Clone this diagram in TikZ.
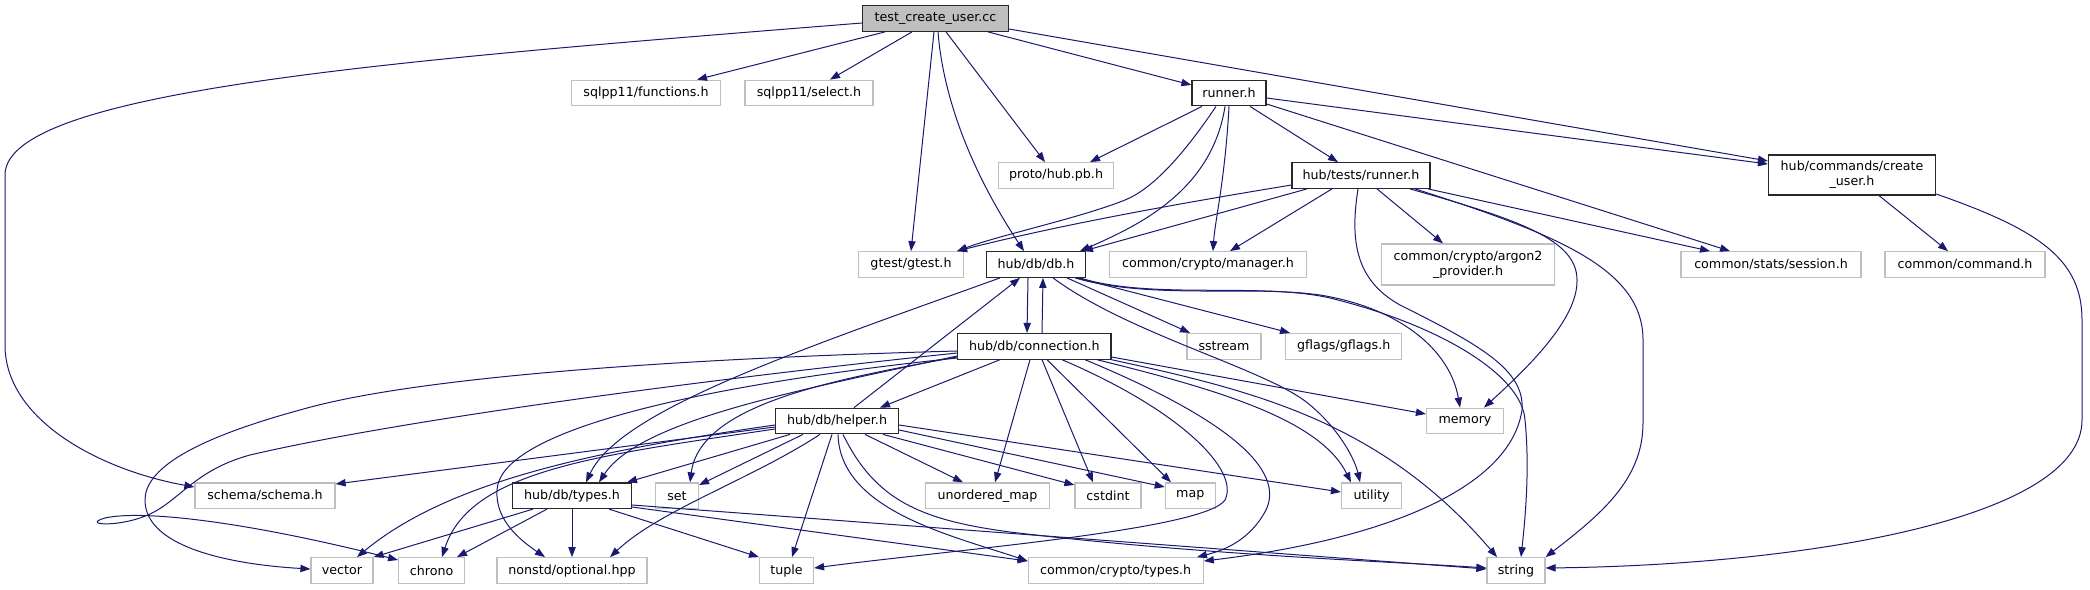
\documentclass[tikz,border=0pt]{standalone}
\usepackage{fontspec}
\setmainfont{DejaVu Sans}
\usetikzlibrary{arrows.meta}
\definecolor{edgec}{RGB}{25,25,112}
\definecolor{grayb}{RGB}{191,191,191}
\definecolor{darkb}{RGB}{40,40,40}
\tikzset{
  nd/.style={draw=grayb, line width=0.9pt, fill=white, minimum height=19.2pt, inner sep=0pt, align=center, font=\fontsize{9.5}{11.5}\selectfont},
  bk/.style={nd, draw=darkb},
  rt/.style={nd, draw=darkb, fill=grayb},
  e/.style={draw=edgec, line width=0.75pt, -{Triangle[length=7.5pt,width=5.5pt]}}
}
\begin{document}
\begin{tikzpicture}[x=0.75pt,y=-0.75pt]
\useasboundingbox (0,0) rectangle (2090,589);
% nodes
\node[rt, minimum width=109.5pt] (root) at (935.5,18.5) {test\_create\_user.cc};
\node[nd, minimum width=111.75pt] (fun) at (646,93) {sqlpp11/functions.h};
\node[nd, minimum width=96pt] (sel) at (809,93) {sqlpp11/select.h};
\node[bk, minimum width=55.5pt] (runner) at (1229,93) {runner.h};
\node[nd, minimum width=86.25pt] (proto) at (1056,175.5) {proto/hub.pb.h};
\node[bk, minimum width=103.5pt] (tests) at (1361,175.5) {hub/tests/runner.h};
\node[bk, minimum width=125.25pt, minimum height=30pt] (cu) at (1852,175) {hub/commands/create\\\_user.h};
\node[nd, minimum width=78.4pt] (gtest) at (911,264.5) {gtest/gtest.h};
\node[bk, minimum width=74.25pt] (db) at (1036,264.5) {hub/db/db.h};
\node[nd, minimum width=147.75pt] (mgr) at (1208,264.5) {common/crypto/manager.h};
\node[nd, minimum width=129.75pt, minimum height=30.75pt] (argon) at (1468,264.5) {common/crypto/argon2\\\_provider.h};
\node[nd, minimum width=135pt] (sess) at (1771,264.5) {common/stats/session.h};
\node[nd, minimum width=120pt] (cmd) at (1965,264.5) {common/command.h};
\node[bk, minimum width=115pt] (conn) at (1034.3,346.3) {hub/db/connection.h};
\node[nd, minimum width=55.5pt] (sstream) at (1224,346.3) {sstream};
\node[nd, minimum width=87pt] (gflags) at (1343.7,346.3) {gflags/gflags.h};
\node[bk, minimum width=92.25pt] (helper) at (837,421) {hub/db/helper.h};
\node[nd, minimum width=57.75pt] (memory) at (1465,421) {memory};
\node[nd, minimum width=105pt] (schema) at (265,495.7) {schema/schema.h};
\node[bk, minimum width=89.25pt] (types) at (572,495.7) {hub/db/types.h};
\node[nd, minimum width=32.25pt] (set) at (677,495.7) {set};
\node[nd, minimum width=93pt] (umap) at (987.5,495.7) {unordered\_map};
\node[nd, minimum width=49.5pt] (cstdint) at (1108,495.7) {cstdint};
\node[nd, minimum width=37.5pt] (map) at (1190.3,495.7) {map};
\node[nd, minimum width=45pt] (utility) at (1371.5,495.7) {utility};
\node[nd, minimum width=46.5pt] (vector) at (342,570.5) {vector};
\node[nd, minimum width=49.5pt] (chrono) at (431.6,570.5) {chrono};
\node[nd, minimum width=112.5pt] (opt) at (572,570.5) {nonstd/optional.hpp};
\node[nd, minimum width=40.5pt] (tuple) at (786.5,570.5) {tuple};
\node[nd, minimum width=131.25pt] (ctypes) at (1115.7,570.5) {common/crypto/types.h};
\node[nd, minimum width=43.5pt] (string) at (1516,570.5) {string};
% edges from root
\draw[e] (root.west |- 0,23) .. controls (400,60) and (5,90) .. (5,175) -- (5,345) .. controls (5,420) and (100,470) .. (schema.west |- 0,487);
\draw[e] (root.south -| 885,0) -- (fun.north -| 697,0);
\draw[e] (root.south -| 912,0) -- (sel.north -| 830,0);
\draw[e] (root.south -| 934,0) -- (gtest.north -| 911,0);
\draw[e] (root.south -| 938,0) .. controls (945,120) and (990,200) .. (db.north -| 1024,0);
\draw[e] (root.south -| 946,0) -- (proto.north -| 1045,0);
\draw[e] (root.south -| 988,0) -- (runner.west |- 0,85);
\draw[e] (root.east |- 0,29) -- (cu.west |- 0,161);
% runner.h
\draw[e] (runner.south -| 1202,0) -- (proto.north -| 1090,0);
\draw[e] (runner.south -| 1216,0) .. controls (1180,160) and (1150,190) .. (1125,200) .. controls (1080,218) and (1000,235) .. (gtest.north -| 957,0);
\draw[e] (runner.south -| 1225,0) .. controls (1212,190) and (1140,225) .. (db.north -| 1080,0);
\draw[e] (runner.south -| 1229,0) .. controls (1225,180) and (1215,220) .. (mgr.north -| 1213,0);
\draw[e] (runner.south -| 1250,0) -- (tests.north -| 1338,0);
\draw[e] (runner.east |- 0,104) -- (sess.north -| 1730,0);
\draw[e] (runner.east |- 0,98) -- (cu.west |- 0,164);
% hub/tests/runner.h
\draw[e] (tests.west |- 0,185) .. controls (1170,205) and (1060,225) .. (gtest.north -| 957,0);
\draw[e] (tests.south -| 1307,0) -- (db.north -| 1083,0);
\draw[e] (tests.south -| 1332,0) -- (mgr.north -| 1230,0);
\draw[e] (tests.south -| 1377,0) -- (argon.north -| 1443,0);
\draw[e] (tests.south -| 1428,0) -- (sess.north -| 1710,0);
\draw[e] (tests.south -| 1410,0) .. controls (1520,220) and (1577,240) .. (1577,280) .. controls (1578,320) and (1525,370) .. (memory.north -| 1484,0);
\draw[e] (tests.south -| 1415,0) .. controls (1560,235) and (1643,270) .. (1643,340) -- (1643,423) .. controls (1643,480) and (1600,515) .. (string.north east);
\draw[e] (tests.south -| 1358,0) .. controls (1350,240) and (1355,280) .. (1400,305) .. controls (1480,345) and (1525,370) .. (1522,410) .. controls (1510,490) and (1380,540) .. (ctypes.east |- 0,561);
% create_user.h
\draw[e] (cu.south -| 1879,0) -- (cmd.north -| 1948,0);
\draw[e] (cu.east |- 0,194) .. controls (2040,230) and (2082,260) .. (2082,320) -- (2082,420) .. controls (2082,520) and (1800,565) .. (string.east |- 0,568);
% db.h
\draw[e] (db.south -| 1028,0) -- (conn.north -| 1027,0);
\draw[e] (conn.north -| 1042,0) -- (db.south -| 1043,0);
\draw[e] (db.south -| 1000,0) .. controls (800,350) and (620,410) .. (types.north -| 586,0);
\draw[e] (db.south -| 1067,0) -- (sstream.north -| 1190,0);
\draw[e] (db.south -| 1077,0) -- (gflags.north -| 1290,0);
\draw[e] (db.south -| 1075,0) .. controls (1150,300) and (1250,285) .. (1320,295) .. controls (1400,308) and (1450,350) .. (memory.north -| 1460,0);
\draw[e] (db.south -| 1080,0) .. controls (1150,300) and (1260,282) .. (1330,298) .. controls (1440,325) and (1522,375) .. (1525,420) .. controls (1530,470) and (1525,520) .. (string.north -| 1521,0);
\draw[e] (db.south -| 1053,0) .. controls (1130,335) and (1270,370) .. (1310,405) .. controls (1340,430) and (1355,460) .. (utility.north -| 1360,0);
% connection.h
\draw[e] (conn.west |- 0,351) .. controls (700,358) and (420,375) .. (300,410) .. controls (190,440) and (145,470) .. (145,500) .. controls (145,550) and (240,565) .. (vector.west |- 0,569);
\draw[e] (conn.west |- 0,353) .. controls (700,380) and (400,420) .. (250,455) .. controls (195,470) and (180,500) .. (150,514) .. controls (120,528) and (80,525) .. (105,518) .. controls (140,510) and (240,520) .. (chrono.west |- 0,560);
\draw[e] (conn.west |- 0,356) .. controls (800,390) and (640,420) .. (types.north -| 599,0);
\draw[e] (conn.west |- 0,357) .. controls (830,380) and (700,405) .. (set.north -| 690,0);
\draw[e] (conn.west |- 0,358) .. controls (700,385) and (500,430) .. (497,490) .. controls (495,520) and (520,540) .. (opt.north -| 545,0);
\draw[e] (conn.south -| 1000,0) -- (helper.north -| 880,0);
\draw[e] (conn.south -| 1030,0) -- (umap.north -| 995,0);
\draw[e] (conn.south -| 1042,0) -- (cstdint.north -| 1093,0);
\draw[e] (conn.south -| 1047,0) -- (map.north -| 1171,0);
\draw[e] (conn.south -| 1062,0) .. controls (1180,410) and (1240,470) .. (1225,500) .. controls (1205,530) and (950,550) .. (tuple.east |- 0,568);
\draw[e] (conn.south -| 1085,0) .. controls (1230,420) and (1285,470) .. (1266,510) .. controls (1250,540) and (1225,550) .. (ctypes.north -| 1197,0);
\draw[e] (conn.south -| 1097,0) .. controls (1220,390) and (1320,420) .. (utility.north -| 1351,0);
\draw[e] (conn.south east) .. controls (1250,390) and (1380,420) .. (string.north -| 1497,0);
\draw[e] (conn.east |- 0,357) -- (memory.west |- 0,414);
% helper.h
\draw[e] (helper.north -| 854,0) -- (db.south -| 1020,0);
\draw[e] (helper.west |- 0,427) -- (schema.east |- 0,484);
\draw[e] (helper.south -| 790,0) -- (types.north -| 627,0);
\draw[e] (helper.south -| 803,0) -- (set.east |- 0,485);
\draw[e] (helper.west |- 0,425) .. controls (600,450) and (450,480) .. (vector.north -| 357,0);
\draw[e] (helper.west |- 0,429) .. controls (600,455) and (470,470) .. (chrono.north -| 442,0);
\draw[e] (helper.south -| 820,0) .. controls (750,480) and (660,510) .. (opt.north -| 610,0);
\draw[e] (helper.south -| 832,0) -- (tuple.north -| 792,0);
\draw[e] (helper.south -| 838,0) .. controls (840,510) and (950,535) .. (ctypes.west |- 0,561);
\draw[e] (helper.south -| 843,0) .. controls (875,500) and (920,520) .. (1010,532) .. controls (1200,555) and (1400,562) .. (string.west |- 0,568);
\draw[e] (helper.south -| 865,0) -- (umap.north -| 963,0);
\draw[e] (helper.south -| 883,0) -- (cstdint.west |- 0,485);
\draw[e] (helper.east |- 0,430) -- (map.west |- 0,487);
\draw[e] (helper.east |- 0,425) -- (utility.west |- 0,492);
% types.h
\draw[e] (types.south -| 533,0) -- (vector.north east);
\draw[e] (types.south -| 547,0) -- (chrono.north -| 457,0);
\draw[e] (types.south) -- (opt.north);
\draw[e] (types.south -| 609,0) -- (tuple.north west);
\draw[e] (types.east |- 0,507) -- (ctypes.west |- 0,561);
\draw[e] (types.east |- 0,505) -- (string.west |- 0,569);
\end{tikzpicture}
\end{document}
